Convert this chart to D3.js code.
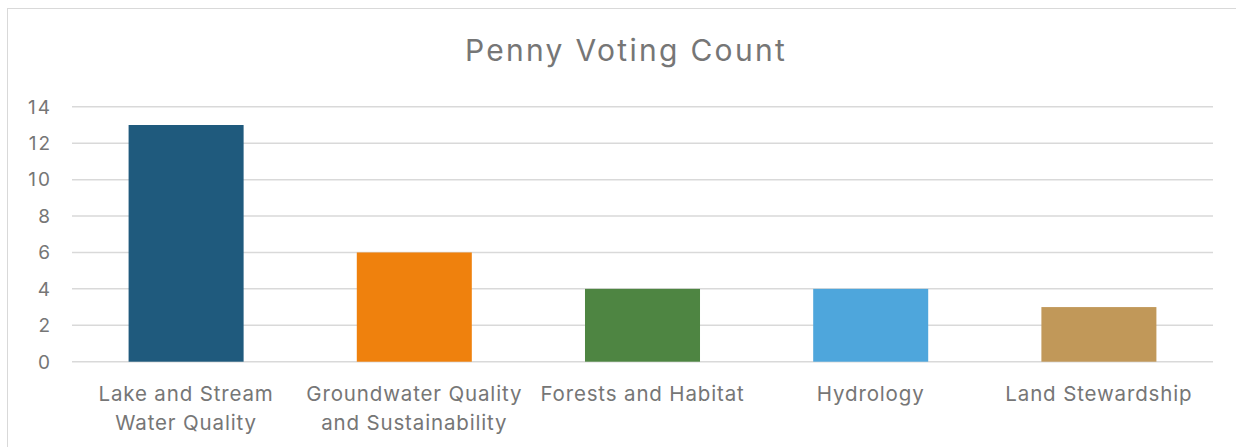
<!DOCTYPE html>
<html>
<head>
<meta charset="utf-8">
<script src="https://cdn.jsdelivr.net/npm/d3@7"></script>
<style>
  body { margin: 0; background: #fff; }
  svg { display: block; font-family: Inter, "Open Sans", sans-serif; }
</style>
</head>
<body>
<svg id="chart" width="1236" height="447"></svg>
<script>
"use strict";

var categories = [
    ["Lake and Stream", "Water Quality"],
    ["Groundwater Quality", "and Sustainability"],
    ["Forests and Habitat"],
    ["Hydrology"],
    ["Land Stewardship"]
]
var counts = [13, 6, 4, 4, 3]
var barColors = ["#1f5a7d", "#ef810d", "#4e8542", "#4ea6dc", "#c19859"]
var yTicks = [0, 2, 4, 6, 8, 10, 12, 14]
var title = "Penny Voting Count"

var svg = d3.select("#chart")
var textColor = "#767676"

// chart area frame (runs off the right and bottom edges)
svg.append("rect")
    .attr("x", 7.5).attr("y", 8.5)
    .attr("width", 1300).attr("height", 500)
    .attr("fill", "#fff")
    .attr("stroke", "#d9d9d9")
    .attr("stroke-width", 1)

var plotLeft = 72, plotRight = 1213, plotTop = 106.8, plotBottom = 361.7

var x = d3.scaleBand()
    .domain(d3.range(counts.length))
    .range([plotLeft, plotRight])
    .paddingInner(0.496)
    .paddingOuter(0.248)

var y = d3.scaleLinear().domain([0, 14]).range([plotBottom, plotTop])

// gridlines
svg.append("g").selectAll("line")
    .data(yTicks)
    .join("line")
    .attr("x1", plotLeft).attr("x2", plotRight)
    .attr("y1", d => y(d)).attr("y2", d => y(d))
    .attr("stroke", "#d9d9d9")
    .attr("stroke-width", 1.5)

// y tick labels (letter-spacing widens Inter towards the original face)
svg.append("g").selectAll("text")
    .data(yTicks)
    .join("text")
    .attr("x", 52)
    .attr("y", d => y(d))
    .attr("dy", "0.36em")
    .attr("text-anchor", "end")
    .attr("fill", textColor)
    .attr("font-size", 19)
    .attr("letter-spacing", 2)
    .text(d => d)

// bars
svg.append("g").selectAll("rect")
    .data(counts)
    .join("rect")
    .attr("x", (d, i) => x(i))
    .attr("width", x.bandwidth())
    .attr("y", d => y(d))
    .attr("height", d => y(0) - y(d))
    .attr("fill", (d, i) => barColors[i])

// category labels
var labels = svg.append("g").selectAll("text")
    .data(categories)
    .join("text")
    .attr("x", (d, i) => x(i) + x.bandwidth() / 2)
    .attr("y", 400.5)
    .attr("text-anchor", "middle")
    .attr("fill", textColor)
    .attr("font-size", 20.5)
    .attr("letter-spacing", 0.85)

labels.selectAll("tspan")
    .data(d => d)
    .join("tspan")
    .attr("x", function () { return d3.select(this.parentNode).attr("x") })
    .attr("dy", (d, i) => i === 0 ? 0 : 29)
    .text(d => d)

// title
svg.append("text")
    .attr("x", 626)
    .attr("y", 61)
    .attr("text-anchor", "middle")
    .attr("fill", textColor)
    .attr("font-size", 30)
    .attr("letter-spacing", 2.3)
    .text(title)
</script>
</body>
</html>
